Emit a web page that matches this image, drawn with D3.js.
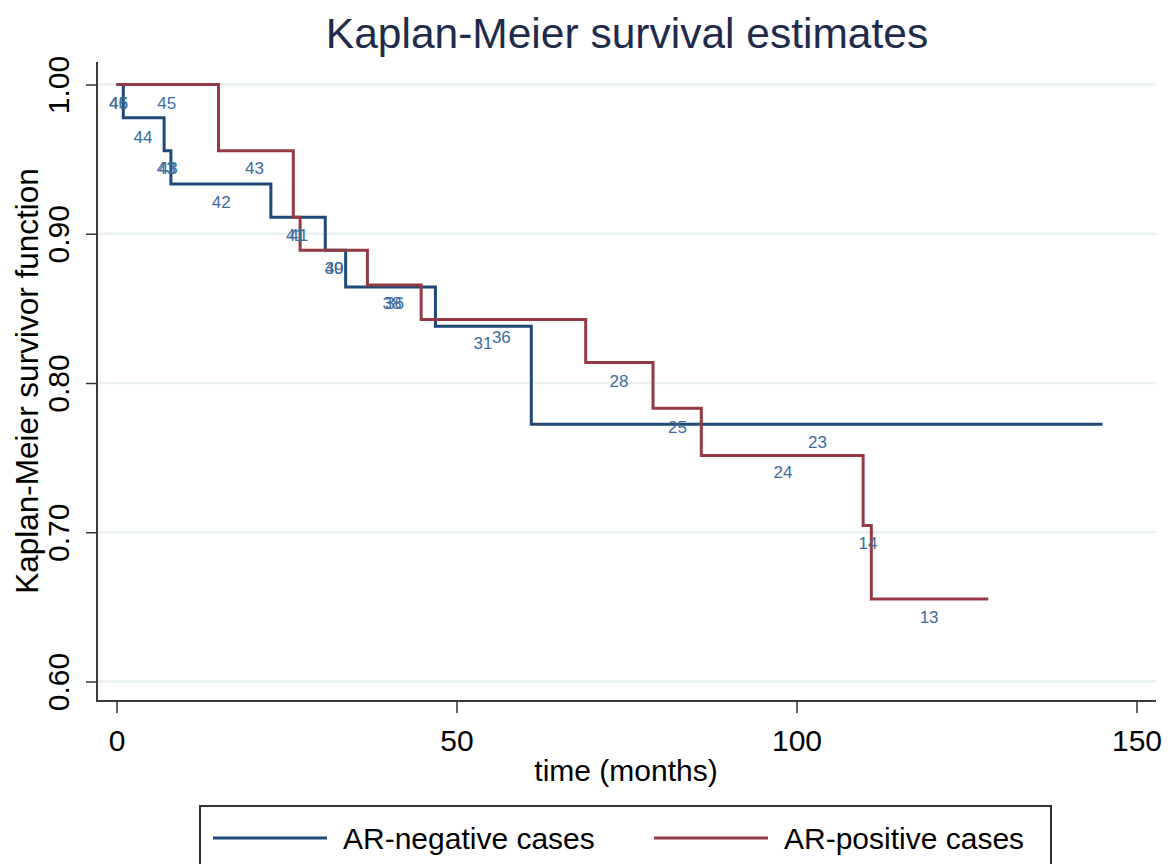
<!DOCTYPE html>
<html>
<head>
<meta charset="utf-8">
<script src="https://cdn.jsdelivr.net/npm/d3@7"></script>
<style>
  body { margin: 0; background: #fff; }
  text { font-family: "Liberation Sans", Arial, sans-serif; }
</style>
</head>
<body>
<div id="container"></div>
<script>
// DATA

const negTime = [0, 1, 7, 8, 22.7, 30.7, 33.7, 46.9, 61, 145];
const negSurv = [1, 0.9778, 0.9556, 0.9333, 0.9111, 0.8889, 0.8644, 0.8381, 0.7724, 0.7724];

const posTime = [0, 15, 26, 27, 36.9, 44.8, 69, 78.9, 86, 109.8, 111, 128.2];
const posSurv = [1, 0.9556, 0.9111, 0.8889, 0.8656, 0.8426, 0.8138, 0.7831, 0.7514, 0.7046, 0.6553, 0.6553];

// numbers at risk (time, survival position, text)
const riskTime = [0.3, 0.3, 7.4, 3.9, 7.3, 7.6, 20.3, 15.4, 26.3, 26.8, 32.0, 32.0, 40.5, 40.9, 53.9, 56.6, 73.9, 82.5, 103.1, 98.0, 110.5, 119.5];
const riskSurv = [0.9874, 0.9874, 0.9874, 0.9646, 0.9439, 0.9439, 0.9439, 0.9215, 0.8992, 0.8992, 0.8768, 0.8768, 0.8534, 0.8534, 0.8266, 0.8310, 0.8013, 0.7707, 0.7607, 0.7402, 0.6926, 0.6430];
const riskText = ["45", "46", "45", "44", "43", "43", "43", "42", "41", "41", "40", "39", "38", "36", "31", "36", "28", "25", "23", "24", "14", "13"];

const xTicks = [0, 50, 100, 150];
const yTicks = [0.6, 0.7, 0.8, 0.9, 1.0];

const seriesNames = ["AR-negative cases", "AR-positive cases"];
const seriesColors = ["#1f4a75", "#943a45"];

// VARIABLES

const width = 1173;
const height = 864;
const plotLeft = 97, plotRight = 1156, plotTop = 62, plotBottom = 701;

// SCALES

const x = d3.scaleLinear().domain([0, 150]).range([116.5, 1136.5]);
const y = d3.scaleLinear().domain([0.6, 1.0]).range([681.5, 84.5]);

const svg = d3.select("#container")
  .append("svg")
  .attr("width", width)
  .attr("height", height);

// gridlines
svg.append("g")
  .selectAll("line")
  .data(yTicks)
  .join("line")
  .attr("x1", plotLeft)
  .attr("x2", plotRight)
  .attr("y1", d => y(d))
  .attr("y2", d => y(d))
  .attr("stroke", "#e9f1f3")
  .attr("stroke-width", 2.5);

// AXES

const yAxis = svg.append("g")
  .attr("transform", `translate(${plotLeft},0)`)
  .call(d3.axisLeft(y).tickValues(yTicks).tickSize(11).tickFormat(d3.format(".2f")));
yAxis.select(".domain").remove();
yAxis.selectAll(".tick line").attr("stroke", "#333").attr("stroke-width", 1.5);
yAxis.selectAll(".tick text")
  .attr("transform", "rotate(-90)")
  .attr("x", 0)
  .attr("y", -28)
  .attr("dy", 0)
  .attr("text-anchor", "middle")
  .attr("font-size", 30)
  .attr("font-family", "Liberation Sans, Arial, sans-serif")
  .attr("fill", "#000");

const xAxis = svg.append("g")
  .attr("transform", `translate(0,${plotBottom})`)
  .call(d3.axisBottom(x).tickValues(xTicks).tickSize(12).tickFormat(d3.format("d")));
xAxis.select(".domain").remove();
xAxis.selectAll(".tick line").attr("stroke", "#333").attr("stroke-width", 1.5);
xAxis.selectAll(".tick text")
  .attr("y", 50)
  .attr("dy", 0)
  .attr("font-size", 30)
  .attr("font-family", "Liberation Sans, Arial, sans-serif")
  .attr("fill", "#000");

// frame lines (left + bottom)
svg.append("path")
  .attr("d", `M${plotLeft},${plotTop}V${plotBottom}H${plotRight}`)
  .attr("fill", "none")
  .attr("stroke", "#3a3a3a")
  .attr("stroke-width", 2);

// CURVES

const line = d3.line()
  .x(d => x(d[0]))
  .y(d => y(d[1]))
  .curve(d3.curveStepAfter);

svg.append("path")
  .datum(negTime.map((t, i) => [t, negSurv[i]]))
  .attr("d", line)
  .attr("fill", "none")
  .attr("stroke", seriesColors[0])
  .attr("stroke-width", 3);

svg.append("path")
  .datum(posTime.map((t, i) => [t, posSurv[i]]))
  .attr("d", line)
  .attr("fill", "none")
  .attr("stroke", seriesColors[1])
  .attr("stroke-width", 3);

// at-risk labels
svg.append("g")
  .selectAll("text")
  .data(riskText)
  .join("text")
  .attr("x", (d, i) => x(riskTime[i]))
  .attr("y", (d, i) => y(riskSurv[i]))
  .attr("dy", "0.36em")
  .attr("text-anchor", "middle")
  .attr("font-size", 17)
  .attr("fill", "#3b6c9e")
  .text(d => d);

// TITLES

svg.append("text")
  .attr("x", 627)
  .attr("y", 48)
  .attr("text-anchor", "middle")
  .attr("font-size", 42.5)
  .attr("fill", "#1e2b4b")
  .text("Kaplan-Meier survival estimates");

svg.append("text")
  .attr("x", 626)
  .attr("y", 781)
  .attr("text-anchor", "middle")
  .attr("font-size", 30)
  .attr("fill", "#000")
  .text("time (months)");

svg.append("text")
  .attr("transform", "translate(38,381) rotate(-90)")
  .attr("text-anchor", "middle")
  .attr("font-size", 31.5)
  .attr("fill", "#000")
  .text("Kaplan-Meier survivor function");

// LEGEND

const legend = svg.append("g");
legend.append("rect")
  .attr("x", 200)
  .attr("y", 806)
  .attr("width", 851)
  .attr("height", 80)
  .attr("fill", "#fff")
  .attr("stroke", "#333")
  .attr("stroke-width", 2);

const legendX = [213, 654];
const items = legend.selectAll("g.item")
  .data(seriesNames)
  .join("g")
  .attr("class", "item")
  .attr("transform", (d, i) => `translate(${legendX[i]},838)`);
items.append("line")
  .attr("x1", 0)
  .attr("x2", 114)
  .attr("stroke", (d, i) => seriesColors[i])
  .attr("stroke-width", 3);
items.append("text")
  .attr("x", 130)
  .attr("y", 11)
  .attr("font-size", 30)
  .attr("fill", "#000")
  .text(d => d);
</script>
</body>
</html>
